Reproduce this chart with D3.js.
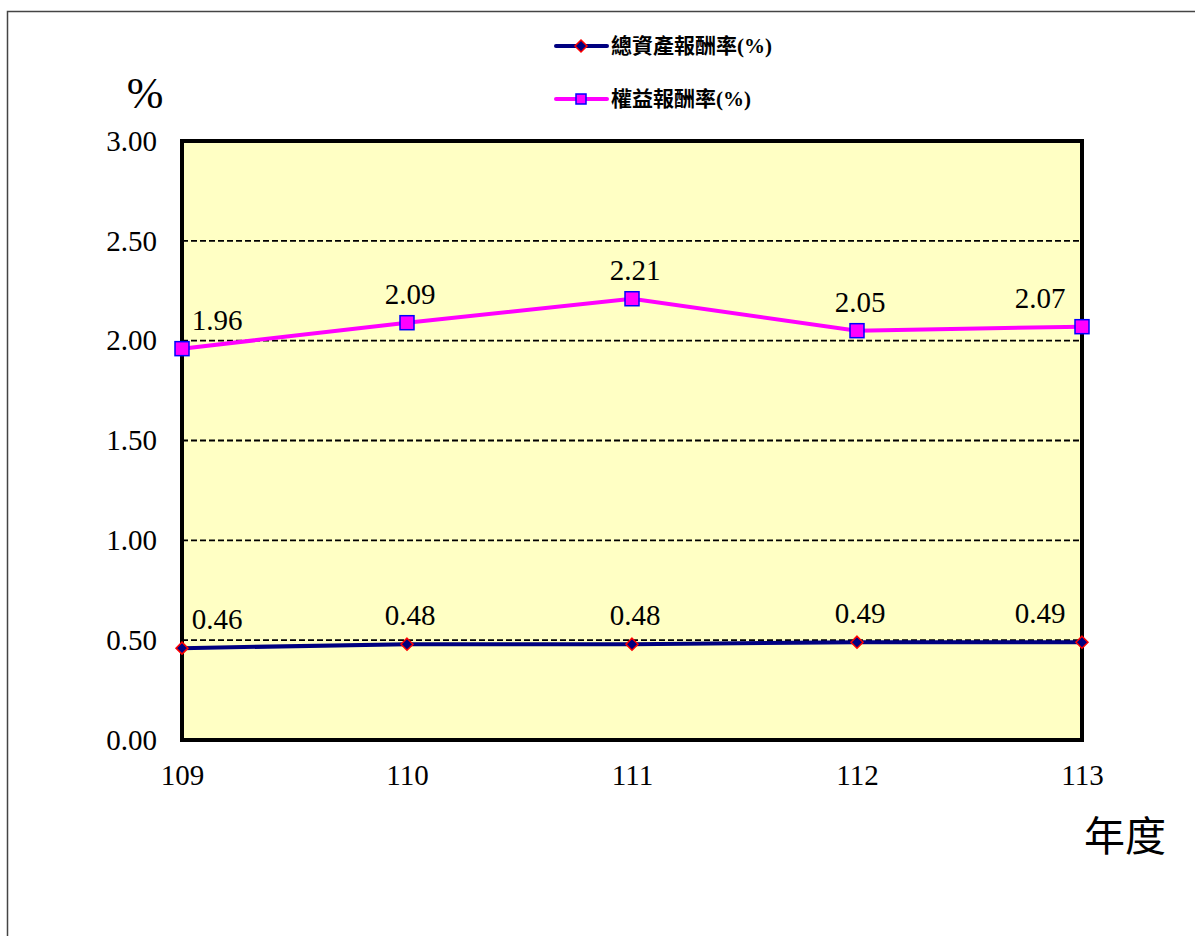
<!DOCTYPE html>
<html lang="zh-Hant">
<head>
<meta charset="UTF-8">
<title>報酬率</title>
<script src="https://d3js.org/d3.v7.min.js"></script>
<style>
  body, html { margin: 0; padding: 0; overflow: hidden; background: #fff; }
</style>
</head>
<body>
<svg id="chart" width="1195" height="936"></svg>
<script>
const years = ["109", "110", "111", "112", "113"];
const roa = [0.46, 0.48, 0.48, 0.49, 0.49];
const roe = [1.96, 2.09, 2.21, 2.05, 2.07];
const yTicks = [0, 0.5, 1, 1.5, 2, 2.5, 3];
const seriesNames = ["總資產報酬率", "權益報酬率"];

const serif = "'Liberation Serif', 'Times New Roman', serif";
const cjk = "'Noto Sans CJK TC', 'Noto Sans CJK SC', sans-serif";

const svg = d3.select("#chart");
const plot = { left: 182, right: 1082, top: 141, bottom: 740 };

// outer frame (runs off the right and bottom edges)
svg.append("path")
  .attr("d", "M7.5,940 V11.5 H1200")
  .attr("fill", "none").attr("stroke", "#444").attr("stroke-width", 1.5);

const x = d3.scalePoint().domain(years).range([plot.left, plot.right]);
const y = d3.scaleLinear().domain([0, 3]).range([plot.bottom, plot.top]);

svg.append("rect")
  .attr("x", plot.left).attr("y", plot.top)
  .attr("width", plot.right - plot.left).attr("height", plot.bottom - plot.top)
  .attr("fill", "#ffffc4");

// dashed grid
svg.append("g").selectAll("line")
  .data(yTicks.filter(d => d > 0 && d < 3))
  .join("line")
  .attr("x1", plot.left).attr("x2", plot.right)
  .attr("y1", d => y(d)).attr("y2", d => y(d))
  .attr("stroke", "#000").attr("stroke-width", 1.8)
  .attr("stroke-dasharray", "6,3");

// y axis labels
const yAxis = svg.append("g")
  .attr("transform", `translate(${plot.left},0)`)
  .call(d3.axisLeft(y).tickValues(yTicks).tickFormat(d3.format(".2f")).tickSize(0).tickPadding(25));
yAxis.select(".domain").remove();
yAxis.selectAll("text").style("font-size", "29px").style("font-family", serif).attr("fill", "#000");

// x axis labels
const xAxis = svg.append("g")
  .attr("transform", `translate(0,${plot.bottom})`)
  .call(d3.axisBottom(x).tickSize(0).tickPadding(24));
xAxis.select(".domain").remove();
xAxis.selectAll("text").style("font-size", "29px").style("font-family", serif).attr("fill", "#000");

// series lines
const line = d3.line().x((d, i) => x(years[i])).y(d => y(d));

svg.append("path").datum(roe)
  .attr("d", line).attr("fill", "none")
  .attr("stroke", "#ff00ff").attr("stroke-width", 4);

svg.append("path").datum(roa)
  .attr("d", line).attr("fill", "none")
  .attr("stroke", "#000080").attr("stroke-width", 4);

// plot border
svg.append("rect")
  .attr("x", plot.left).attr("y", plot.top)
  .attr("width", plot.right - plot.left).attr("height", plot.bottom - plot.top)
  .attr("fill", "none").attr("stroke", "#000").attr("stroke-width", 4);

// markers
svg.append("g").selectAll("rect")
  .data(roe).join("rect")
  .attr("x", (d, i) => x(years[i]) - 7).attr("y", d => y(d) - 7)
  .attr("width", 14).attr("height", 14)
  .attr("fill", "#ff00ff").attr("stroke", "#0000ff").attr("stroke-width", 1.5);

svg.append("g").selectAll("path")
  .data(roa).join("path")
  .attr("d", "M0,-6 L6,0 L0,6 L-6,0 Z")
  .attr("transform", (d, i) => `translate(${x(years[i])},${y(d)})`)
  .attr("fill", "#000080").attr("stroke", "#ff0000").attr("stroke-width", 1.5);

// data labels
const labelX = px => Math.min(Math.max(px + 3, plot.left + 35), plot.right - 42);
[roe, roa].forEach(series => {
  svg.append("g").selectAll("text")
    .data(series).join("text")
    .attr("x", (d, i) => labelX(x(years[i])))
    .attr("y", d => y(d) - 19)
    .attr("text-anchor", "middle")
    .style("font-size", "29px").style("font-family", serif)
    .attr("fill", "#000")
    .text(d => d.toFixed(2));
});

// axis titles
svg.append("text").attr("x", 145).attr("y", 108)
  .attr("text-anchor", "middle").style("font-size", "44px").style("font-family", serif).text("%");
svg.append("text").attr("x", 1125).attr("y", 851)
  .attr("text-anchor", "middle").style("font-size", "41px").style("font-family", cjk).text("年度");

// legend
const legend = [
  { name: seriesNames[0], color: "#000080", marker: "diamond", y: 46 },
  { name: seriesNames[1], color: "#ff00ff", marker: "square", y: 99 }
];
legend.forEach(l => {
  const g = svg.append("g");
  g.append("line").attr("x1", 556).attr("x2", 607).attr("y1", l.y).attr("y2", l.y)
    .attr("stroke", l.color).attr("stroke-width", 4).attr("stroke-linecap", "round");
  if (l.marker === "diamond") {
    g.append("path").attr("d", "M0,-6 L6,0 L0,6 L-6,0 Z")
      .attr("transform", `translate(581,${l.y})`)
      .attr("fill", "#000080").attr("stroke", "#ff0000").attr("stroke-width", 1.5);
  } else {
    g.append("rect").attr("x", 576).attr("y", l.y - 5).attr("width", 10).attr("height", 10)
      .attr("fill", "#ff00ff").attr("stroke", "#0000ff").attr("stroke-width", 1.5);
  }
  const t = g.append("text").attr("x", 611).attr("y", l.y + 7)
    .style("font-size", "21px").attr("font-weight", "bold");
  t.append("tspan").style("font-family", cjk).text(l.name);
  t.append("tspan").style("font-family", serif).text("(%)");
});
</script>
</body>
</html>
